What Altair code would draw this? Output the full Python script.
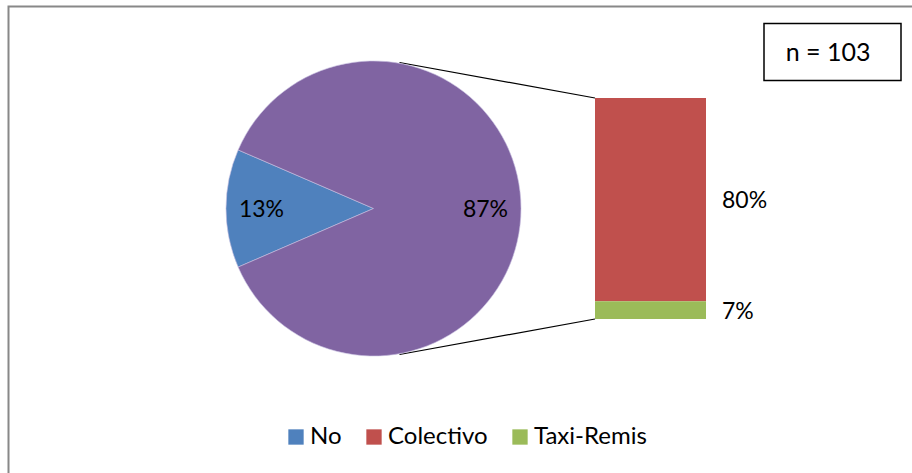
import math
import altair as alt
import pandas as pd

# ---- data ----
pie_categories = ["No", "Sí"]
pie_values = [13, 87]
pie_labels = ["13%", "87%"]

bar_categories = ["Colectivo", "Taxi-Remis"]
bar_values = [80, 7]
bar_labels = ["80%", "7%"]

legend_entries = ["No", "Colectivo", "Taxi-Remis"]
n_text = "n = 103"

color_domain = ["No", "Sí", "Colectivo", "Taxi-Remis"]
color_range = ["#4F81BD", "#8064A2", "#C0504D", "#9BBB59"]

FONT = "Lato"

pie_df = pd.DataFrame({"cat": pie_categories, "value": pie_values,
                       "label": pie_labels, "ord": [0, 1]})
bar_df = pd.DataFrame({"cat": bar_categories, "value": bar_values,
                       "label": bar_labels, "ord": [1, 0]})
one = pd.DataFrame({"k": [0]})

# layout
CX, CY, R = 373.5, 208.5, 147.5
start = 2 * math.pi * (0.75 - pie_values[0] / 100 / 2)

color_scale = alt.Scale(domain=color_domain, range=color_range)
legend = alt.Legend(values=legend_entries, title=None, orient="none",
                    direction="horizontal", legendX=284, legendY=425,
                    symbolType="square", symbolSize=235, symbolStrokeWidth=0,
                    labelFont=FONT, labelFontSize=24, labelColor="#000000",
                    labelOffset=2, columnPadding=20, padding=0)

theta = alt.Theta("value:Q", stack=True,
                  scale=alt.Scale(range=[start, start + 2 * math.pi]))

pie = alt.Chart(pie_df).mark_arc(radius=R, stroke="#c8c0e0", strokeWidth=0.6).encode(
    theta=theta,
    color=alt.Color("cat:N", scale=color_scale, legend=legend),
    order=alt.Order("ord:Q"),
    x=alt.value(CX), y=alt.value(CY),
)

pie_text = alt.Chart(pie_df).mark_text(radius=112, font=FONT, fontSize=23,
                                       color="#000000", dy=1.5).encode(
    theta=theta,
    order=alt.Order("ord:Q"),
    text="label:N",
    x=alt.value(CX), y=alt.value(CY),
)

yscale = alt.Scale(domain=[0, 87], range=[319, 98])

bar = alt.Chart(bar_df).transform_stack(
    stack="value", groupby=[], as_=["y0", "y1"],
    sort=[alt.SortField("ord", order="ascending")]
).mark_rect().encode(
    x=alt.value(595), x2=alt.value(706),
    y=alt.Y("y0:Q", scale=yscale, axis=None), y2="y1:Q",
    color=alt.Color("cat:N", scale=color_scale, legend=legend),
)

bar_text = alt.Chart(bar_df).transform_stack(
    stack="value", groupby=[], as_=["y0", "y1"],
    sort=[alt.SortField("ord", order="ascending")]
).transform_calculate(mid="(datum.y0 + datum.y1) / 2").mark_text(
    align="left", baseline="middle", font=FONT, fontSize=23, color="#000000", dy=1.5
).encode(
    x=alt.value(722),
    y=alt.Y("mid:Q", scale=yscale, axis=None),
    text="label:N",
)

line_top = alt.Chart(one).mark_rule(color="#000000", strokeWidth=1.2).encode(
    x=alt.value(399.5), y=alt.value(62.5), x2=alt.value(595), y2=alt.value(98))
line_bot = alt.Chart(one).mark_rule(color="#000000", strokeWidth=1.2).encode(
    x=alt.value(399.5), y=alt.value(354.5), x2=alt.value(595), y2=alt.value(319))

nbox = alt.Chart(one).mark_rect(fill="#ffffff", stroke="#000000", strokeWidth=1.5).encode(
    x=alt.value(764), x2=alt.value(901), y=alt.value(23.5), y2=alt.value(80.5))
ntext = alt.Chart(one).mark_text(font=FONT, fontSize=25, color="#000000",
                                 align="center", baseline="middle").encode(
    x=alt.value(828), y=alt.value(53), text=alt.value(n_text))

border = alt.Chart(one).mark_rect(fill="#ffffff", fillOpacity=0, stroke="#888888",
                                  strokeWidth=2).encode(
    x=alt.value(8.5), x2=alt.value(930), y=alt.value(6.5), y2=alt.value(490))

chart = alt.layer(border, line_top, line_bot, pie, pie_text, bar, bar_text, nbox, ntext).properties(
    width=912, height=473,
    autosize=alt.AutoSizeParams(type="none"),
    padding=0,
    background="#ffffff",
).configure_view(stroke=None)

chart.save("out.html", embed_options={"renderer": "svg", "actions": False})
